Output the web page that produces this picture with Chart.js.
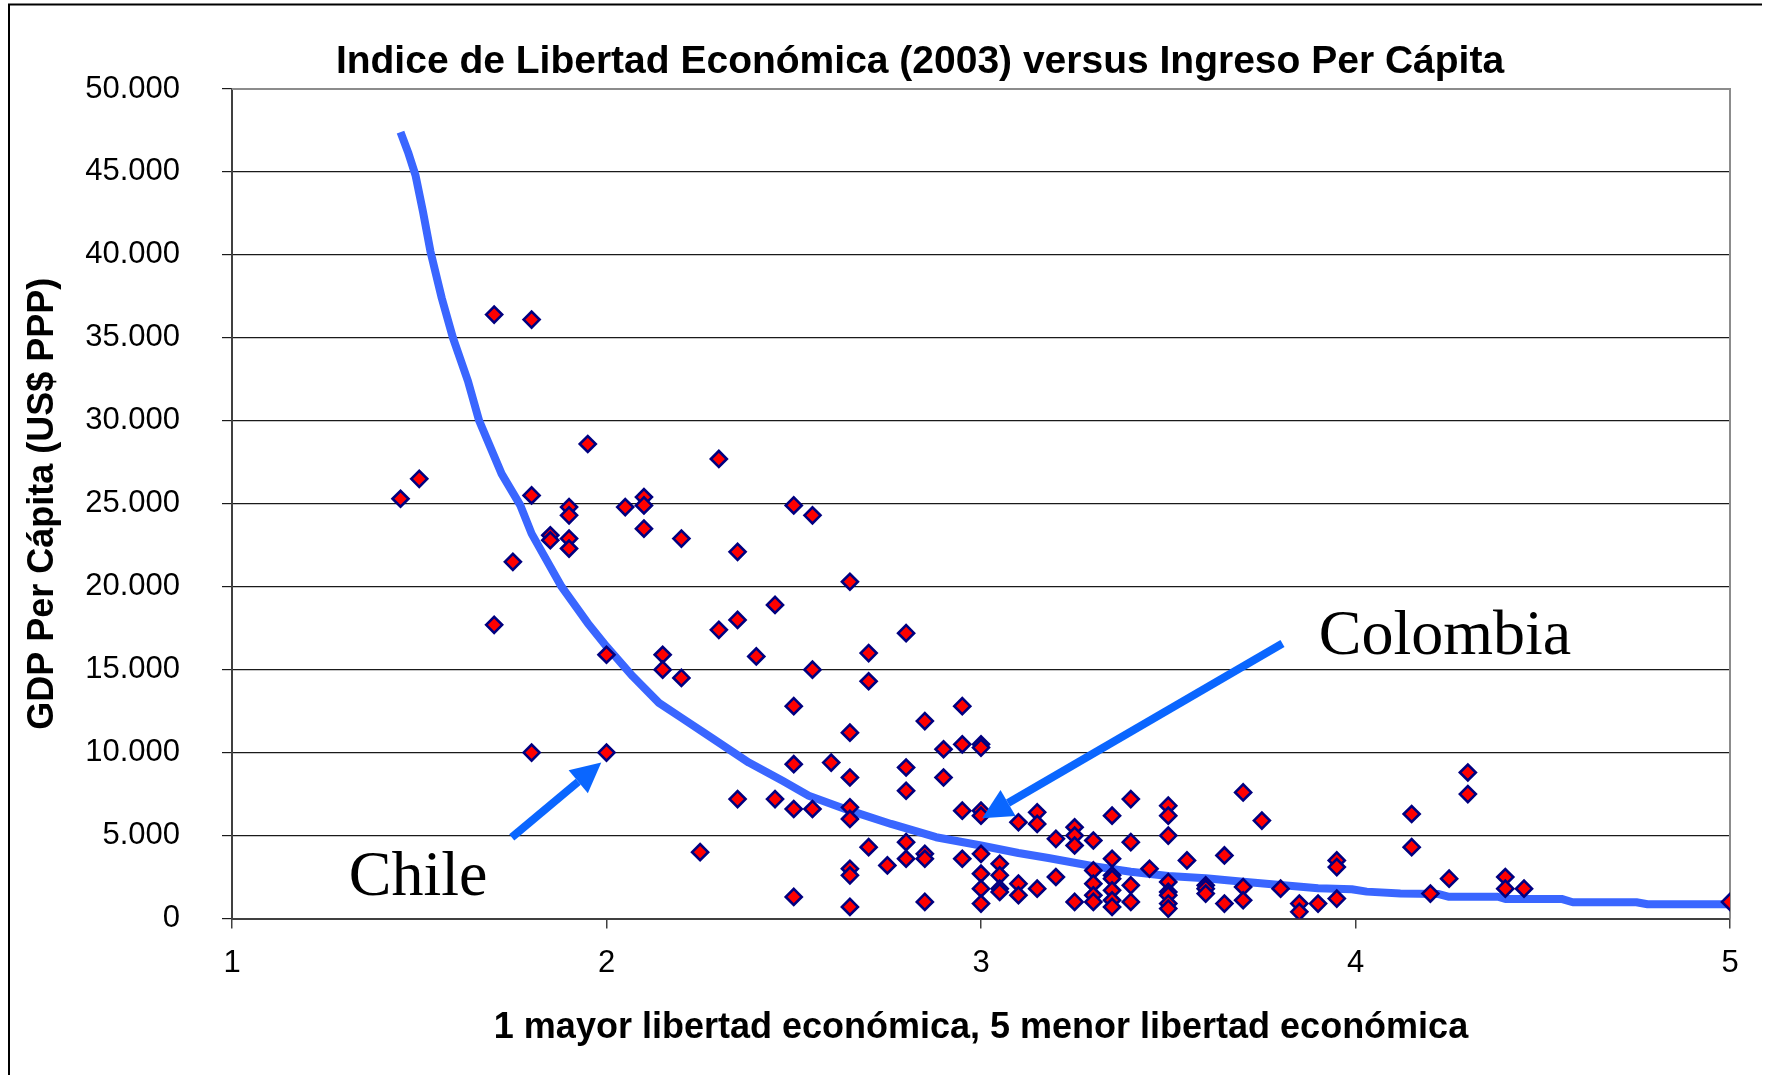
<!DOCTYPE html>
<html>
<head>
<meta charset="utf-8">
<script src="https://cdn.jsdelivr.net/npm/chart.js@4.4.1/dist/chart.umd.min.js"></script>
<style>
  html, body { margin: 0; padding: 0; background: #fff; }
  #wrap { width: 1765px; height: 1075px; position: relative; }
</style>
</head>
<body>
<div id="wrap"><canvas id="freedomChart"></canvas></div>
<script>
// freedom index (1 = most free, 5 = least free) and GDP per capita, one entry per country
const freedomScore = [
  1.45, 1.50, 1.70, 1.70, 1.75, 1.80, 1.80, 1.80, 1.85, 1.85,
  1.90, 1.90, 1.90, 1.90, 1.95, 2.00, 2.00, 2.05, 2.10, 2.10,
  2.10, 2.15, 2.15, 2.20, 2.20, 2.25, 2.30, 2.30, 2.35, 2.35,
  2.35, 2.40, 2.45, 2.45, 2.50, 2.50, 2.50, 2.50, 2.50, 2.55,
  2.55, 2.55, 2.60, 2.65, 2.65, 2.65, 2.65, 2.65, 2.65, 2.65,
  2.65, 2.70, 2.70, 2.70, 2.75, 2.80, 2.80, 2.80, 2.80, 2.80,
  2.85, 2.85, 2.85, 2.85, 2.90, 2.90, 2.95, 2.95, 2.95, 2.95,
  3.00, 3.00, 3.00, 3.00, 3.00, 3.00, 3.00, 3.00, 3.05, 3.05,
  3.05, 3.05, 3.10, 3.10, 3.10, 3.15, 3.15, 3.15, 3.20, 3.20,
  3.25, 3.25, 3.25, 3.25, 3.30, 3.30, 3.30, 3.30, 3.30, 3.35,
  3.35, 3.35, 3.35, 3.35, 3.35, 3.35, 3.40, 3.40, 3.40, 3.40,
  3.45, 3.50, 3.50, 3.50, 3.50, 3.50, 3.50, 3.50, 3.50, 3.55,
  3.60, 3.60, 3.60, 3.65, 3.65, 3.70, 3.70, 3.70, 3.75, 3.80,
  3.85, 3.85, 3.90, 3.95, 3.95, 3.95, 4.15, 4.15, 4.20, 4.25,
  4.30, 4.30, 4.40, 4.40, 4.45, 5.00
];
const gdpPerCapita = [
  25300, 26500, 36400, 17700, 21500, 36100, 25500, 10000, 23100, 22800,
  24800, 24300, 22900, 22300, 28600, 15900, 10000, 24800, 25400, 24900,
  23500, 15900, 15000, 22900, 14500, 4000, 27700, 17400, 22100, 18000,
  7200, 15800, 18900, 7200, 24900, 12800, 9300, 6600, 1300, 24300,
  15000, 6600, 9400, 20300, 11200, 8500, 6700, 6000, 3000, 2600,
  700, 16000, 14300, 4300, 3200, 17200, 9100, 7700, 4600, 3600,
  11900, 3900, 3600, 1000, 10200, 8500, 12800, 10500, 6500, 3600,
  10500, 10300, 6500, 6200, 3900, 2700, 1800, 900, 3300, 2600,
  1800, 1600, 5800, 2100, 1400, 6400, 5700, 1800, 4800, 2500,
  5500, 5000, 4400, 1000, 4700, 2900, 2100, 1400, 1000, 6200,
  3600, 2600, 2400, 1700, 1100, 700, 7200, 4600, 2000, 1000,
  3000, 6800, 6200, 5000, 2200, 1600, 1400, 900, 600, 3500,
  2000, 1800, 1500, 3800, 900, 7600, 1900, 1100, 5900, 1800,
  900, 400, 900, 3500, 3100, 1200, 6300, 4300, 1500, 2400,
  8800, 7500, 2500, 1800, 1800, 1000
];

// trend curve vertices
const trendScore = [
  1.45, 1.47, 1.49, 1.51, 1.53, 1.56, 1.59, 1.63, 1.66, 1.72,
  1.77, 1.80, 1.88, 1.95, 2.00, 2.07, 2.14, 2.20, 2.28, 2.34,
  2.38, 2.47, 2.54, 2.65, 2.76, 2.88, 3.00, 3.10, 3.18, 3.30,
  3.40, 3.50, 3.60, 3.70, 3.80, 3.90, 3.99, 4.03, 4.12, 4.22,
  4.25, 4.38, 4.40, 4.55, 4.58, 4.75, 4.78, 5.00
];
const trendGdp = [
  47400, 46200, 44800, 42600, 40200, 37400, 35000, 32400, 30000, 26800,
  24900, 23200, 20000, 17800, 16400, 14600, 13000, 12100, 10900, 10000,
  9400, 8300, 7400, 6500, 5700, 4900, 4400, 3950, 3650, 3150,
  2820, 2560, 2420, 2220, 2020, 1820, 1760, 1620, 1500, 1480,
  1310, 1310, 1180, 1180, 980, 980, 860, 860
];

// axis ranges
const xRange = [1, 5];
const yRange = [0, 50000];
const yStep = 5000;

// labelled countries: where the arrow starts, where it points, where the name sits
const callouts = [
  { name: 'Chile', from: [1.747, 4890], to: [1.986, 9400], text: [1.312, 1400] },
  { name: 'Colombia', from: [3.805, 16580], to: [3.003, 6050], text: [3.902, 15940] }
];

const points = freedomScore.map((x, i) => ({ x: x, y: gdpPerCapita[i] }));
const trend = trendScore.map((x, i) => ({ x: x, y: trendGdp[i] }));

const thousands = v => String(v).replace(/\B(?=(\d{3})+(?!\d))/g, '.');

const decorations = {
  id: 'decorations',
  beforeDraw(chart) {
    const ctx = chart.ctx;
    ctx.save();
    ctx.fillStyle = '#fff';
    ctx.fillRect(0, 0, chart.width, chart.height);
    // outer frame, left and top only
    ctx.strokeStyle = '#000';
    ctx.lineWidth = 2;
    ctx.beginPath();
    ctx.moveTo(9, chart.height);
    ctx.lineTo(9, 4.5);
    ctx.lineTo(1762, 4.5);
    ctx.stroke();
    ctx.restore();
  },
  beforeDatasetsDraw(chart) {
    const { ctx, chartArea: a } = chart;
    ctx.save();
    ctx.strokeStyle = '#8c8c8c';
    ctx.lineWidth = 2;
    ctx.beginPath();
    ctx.moveTo(a.left, a.top);
    ctx.lineTo(a.right, a.top);
    ctx.lineTo(a.right, a.bottom);
    ctx.stroke();
    ctx.restore();
  },
  afterDatasetsDraw(chart) {
    const { ctx, scales: { x, y } } = chart;
    ctx.save();
    callouts.forEach(c => {
      const x0 = x.getPixelForValue(c.from[0]), y0 = y.getPixelForValue(c.from[1]);
      const x1 = x.getPixelForValue(c.to[0]), y1 = y.getPixelForValue(c.to[1]);
      const ang = Math.atan2(y1 - y0, x1 - x0);
      const head = 30, half = 15;
      const bx = x1 - head * Math.cos(ang), by = y1 - head * Math.sin(ang);
      ctx.strokeStyle = '#0a66ff';
      ctx.fillStyle = '#0a66ff';
      ctx.lineWidth = 8;
      ctx.beginPath();
      ctx.moveTo(x0, y0);
      ctx.lineTo(bx, by);
      ctx.stroke();
      ctx.beginPath();
      ctx.moveTo(x1, y1);
      ctx.lineTo(bx + half * Math.sin(ang), by - half * Math.cos(ang));
      ctx.lineTo(bx - half * Math.sin(ang), by + half * Math.cos(ang));
      ctx.closePath();
      ctx.fill();

      ctx.fillStyle = '#000';
      ctx.font = '64px "Liberation Serif", "Times New Roman", serif';
      ctx.textAlign = 'left';
      ctx.textBaseline = 'alphabetic';
      ctx.fillText(c.name, x.getPixelForValue(c.text[0]), y.getPixelForValue(c.text[1]));
    });
    ctx.restore();
  },
  afterDraw(chart) {
    const ctx = chart.ctx;
    ctx.save();
    ctx.fillStyle = '#000';
    ctx.font = 'bold 39px "Liberation Sans", Arial, sans-serif';
    ctx.textAlign = 'center';
    ctx.textBaseline = 'alphabetic';
    ctx.fillText('Indice de Libertad Económica (2003) versus Ingreso Per Cápita', 920, 73);
    ctx.restore();
  }
};

Chart.defaults.font.family = '"Liberation Sans", Arial, sans-serif';
Chart.defaults.color = '#000';

new Chart(document.getElementById('freedomChart'), {
  type: 'scatter',
  data: {
    datasets: [
      {
        label: 'países',
        data: points,
        pointStyle: 'rectRot',
        pointRadius: 8,
        pointBorderWidth: 2.6,
        pointBackgroundColor: '#ff0000',
        pointBorderColor: '#000080',
        backgroundColor: '#ff0000',
        borderColor: '#000080',
        order: 0
      },
      {
        type: 'line',
        label: 'tendencia',
        data: trend,
        showLine: true,
        pointRadius: 0,
        borderColor: '#3a66ff',
        borderWidth: 8,
        borderJoinStyle: 'round',
        fill: false,
        order: 1
      }
    ]
  },
  options: {
    responsive: true,
    maintainAspectRatio: false,
    animation: false,
    events: [],
    layout: { padding: { top: 89, left: 0, right: 35, bottom: 0 } },
    plugins: {
      legend: { display: false },
      tooltip: { enabled: false },
      title: { display: false }
    },
    scales: {
      x: {
        type: 'linear',
        min: xRange[0],
        max: xRange[1],
        afterFit: s => { s.height = 156.5; },
        ticks: { stepSize: 1, font: { size: 31 }, padding: 16 },
        grid: { drawOnChartArea: false, drawTicks: true, tickLength: 10, color: '#404040', lineWidth: 1.5 },
        border: { color: '#404040', width: 2 },
        title: {
          display: true,
          text: '1 mayor libertad económica, 5 menor libertad económica',
          font: { size: 36, weight: 'bold' },
          padding: { top: 0, bottom: 25 }
        }
      },
      y: {
        type: 'linear',
        min: yRange[0],
        max: yRange[1],
        afterFit: s => { s.width = 232; },
        ticks: { stepSize: yStep, font: { size: 31 }, padding: 42, callback: v => thousands(v) },
        grid: { drawOnChartArea: true, drawTicks: true, tickLength: 10, color: '#1a1a1a', lineWidth: 1.2 },
        border: { color: '#404040', width: 2 },
        title: {
          display: true,
          text: 'GDP Per Cápita (US$ PPP)',
          font: { size: 36, weight: 'bold' },
          padding: { top: 21, bottom: 0 }
        }
      }
    }
  },
  plugins: [decorations]
});
</script>
</body>
</html>
